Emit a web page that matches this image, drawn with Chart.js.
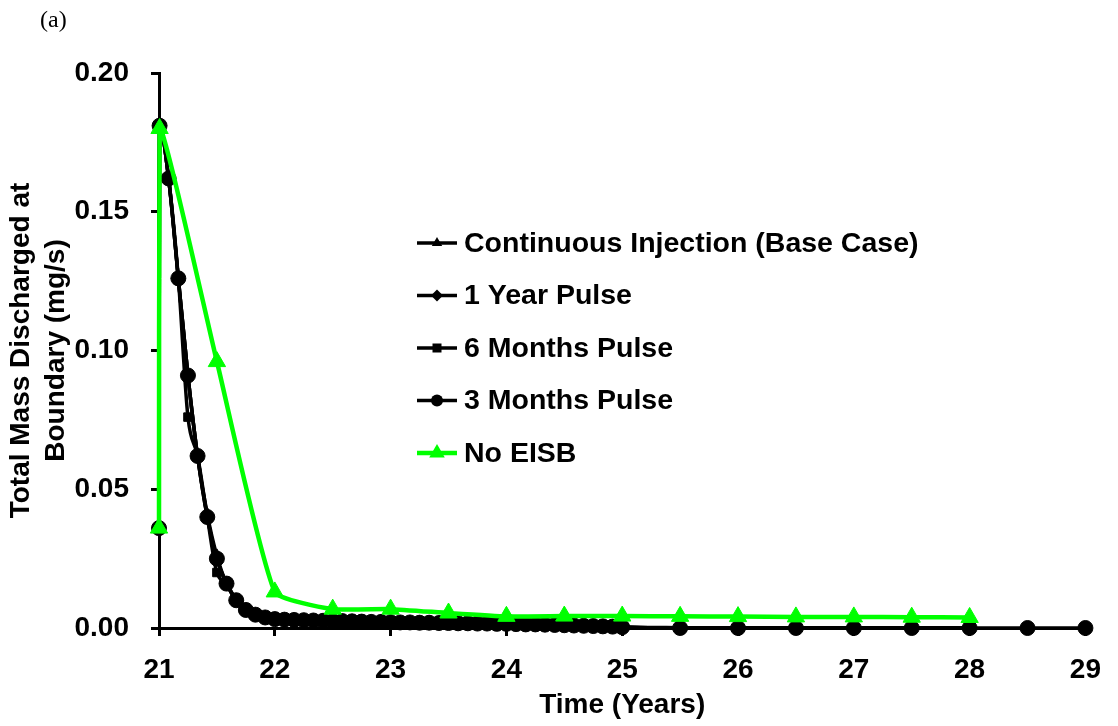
<!DOCTYPE html>
<html>
<head>
<meta charset="utf-8">
<script src="https://cdn.jsdelivr.net/npm/chart.js@4.4.0/dist/chart.umd.min.js"></script>
<style>
  body { margin: 0; background: #fff; }
  #wrap { position: relative; width: 1118px; height: 726px; }
  #panel { position: absolute; left: 40px; top: 7px; font: 24px "Liberation Serif", "Times New Roman", serif; line-height: 24px; }
</style>
</head>
<body>
<div id="wrap">
  <canvas id="massChart" width="1118" height="726"></canvas>
  <div id="panel">(a)</div>
</div>
<script>
// series names (legend order)
const seriesNames = ['Continuous Injection (Base Case)', '1 Year Pulse', '6 Months Pulse', '3 Months Pulse', 'No EISB'];

// time in years for the EISB runs: monthly up to year 25, then every half year
const pulseTimes = [21, 21.005, 21.083, 21.167, 21.25, 21.333, 21.417, 21.5, 21.583, 21.667, 21.75, 21.833, 21.917,
  22, 22.083, 22.167, 22.25, 22.333, 22.417, 22.5, 22.583, 22.667, 22.75, 22.833, 22.917,
  23, 23.083, 23.167, 23.25, 23.333, 23.417, 23.5, 23.583, 23.667, 23.75, 23.833, 23.917,
  24, 24.083, 24.167, 24.25, 24.333, 24.417, 24.5, 24.583, 24.667, 24.75, 24.833, 24.917,
  25, 25.5, 26, 26.5, 27, 27.5, 28, 28.5, 29];

// mass discharged (mg/s)
const continuousValues = [0.036, 0.181, 0.162, 0.126, 0.091, 0.062, 0.041, 0.026, 0.016, 0.010, 0.0066, 0.0049, 0.0039,
  0.0033, 0.0031, 0.0030, 0.0029, 0.0028, 0.0027, 0.0026, 0.0026, 0.0025, 0.0024, 0.0023, 0.0023,
  0.0022, 0.0021, 0.0021, 0.0020, 0.0020, 0.0019, 0.0019, 0.0018, 0.0018, 0.0017, 0.0017, 0.0016,
  0.0016, 0.0015, 0.0014, 0.0014, 0.0013, 0.0012, 0.0011, 0.0010, 0.0009, 0.0008, 0.0007, 0.0006,
  0.0004, 0.0001, 0, 0, 0, 0, 0];
const oneYearValues = [0.036, 0.181, 0.162, 0.126, 0.091, 0.062, 0.040, 0.025, 0.016, 0.010, 0.0065, 0.0048, 0.0038,
  0.0032, 0.0030, 0.0029, 0.0028, 0.0027, 0.0026, 0.0025, 0.0025, 0.0024, 0.0023, 0.0022, 0.0022,
  0.0021, 0.0020, 0.0020, 0.0019, 0.0019, 0.0018, 0.0018, 0.0017, 0.0017, 0.0016, 0.0016, 0.0015,
  0.0015, 0.0014, 0.0013, 0.0013, 0.0012, 0.0011, 0.0010, 0.0009, 0.0008, 0.0007, 0.0006, 0.0005,
  0.0003, 0, 0, 0, 0, 0, 0];
const sixMonthValues = [0.036, 0.181, 0.162, 0.126, 0.076, 0.062, 0.040, 0.020, 0.016, 0.010, 0.0065, 0.0048, 0.0038,
  0.0032, 0.0030, 0.0029, 0.0028, 0.0027, 0.0026, 0.0025, 0.0025, 0.0024, 0.0023, 0.0022, 0.0022,
  0.0021, 0.0020, 0.0020, 0.0019, 0.0019, 0.0018, 0.0018, 0.0017, 0.0017, 0.0016, 0.0016, 0.0015,
  0.0015, 0.0014, 0.0013, 0.0013, 0.0012, 0.0011, 0.0010, 0.0009, 0.0008, 0.0007, 0.0006, 0.0005,
  0.0003, 0, 0, 0, 0, 0, 0];
const threeMonthValues = [0.036, 0.181, 0.162, 0.126, 0.091, 0.062, 0.040, 0.025, 0.016, 0.010, 0.0065, 0.0048, 0.0038,
  0.0032, 0.0030, 0.0029, 0.0028, 0.0027, 0.0026, 0.0025, 0.0025, 0.0024, 0.0023, 0.0022, 0.0022,
  0.0021, 0.0020, 0.0020, 0.0019, 0.0019, 0.0018, 0.0018, 0.0017, 0.0017, 0.0016, 0.0016, 0.0015,
  0.0015, 0.0014, 0.0013, 0.0013, 0.0012, 0.0011, 0.0010, 0.0009, 0.0008, 0.0007, 0.0006, 0.0005,
  0.0003, 0, 0, 0, 0, 0, 0, 0, 0];

// no EISB run: half-yearly output
const noEisbTimes = [21, 21.005, 21.5, 22, 22.5, 23, 23.5, 24, 24.5, 25, 25.5, 26, 26.5, 27, 27.5, 28];
const noEisbValues = [0.036, 0.180, 0.096, 0.013, 0.0068, 0.0068, 0.0054, 0.0042, 0.0043, 0.0043, 0.0042, 0.0041, 0.0040, 0.0040, 0.0039, 0.0038];

// axis ticks
const xTicks = [21, 22, 23, 24, 25, 26, 27, 28, 29];
const yTicks = [0, 0.05, 0.10, 0.15, 0.20];

const fontFamily = '"Liberation Sans", Arial, sans-serif';
const boldFont = { family: fontFamily, size: 28, weight: 'bold' };

function toPoints(times, values) {
  return values.map((v, i) => ({ x: times[i], y: v }));
}

function blackSeries(label, values, style, radius, order) {
  return {
    label: label,
    data: toPoints(pulseTimes, values),
    borderColor: '#000',
    backgroundColor: '#000',
    borderWidth: 3.5,
    pointStyle: style,
    pointRadius: radius,
    pointBorderWidth: 1,
    cubicInterpolationMode: 'monotone',
    clip: false,
    order: order
  };
}

// marker drawn in the legend box
function drawMarker(ctx, style, x, y, r, color) {
  ctx.fillStyle = color;
  ctx.beginPath();
  if (style === 'circle') {
    ctx.arc(x, y, r, 0, Math.PI * 2);
  } else if (style === 'triangle') {
    ctx.moveTo(x, y - r);
    ctx.lineTo(x + r * 0.866, y + r / 2);
    ctx.lineTo(x - r * 0.866, y + r / 2);
  } else if (style === 'rectRot') {
    ctx.moveTo(x, y - r);
    ctx.lineTo(x + r, y);
    ctx.lineTo(x, y + r);
    ctx.lineTo(x - r, y);
  } else {
    ctx.rect(x - r * 0.75, y - r * 0.75, r * 1.5, r * 1.5);
  }
  ctx.closePath();
  ctx.fill();
}

// legend sitting inside the plot
const insideLegend = {
  id: 'insideLegend',
  afterDraw(chart, args, opts) {
    const ctx = chart.ctx;
    ctx.save();
    ctx.font = 'bold ' + opts.fontSize + 'px ' + fontFamily;
    ctx.textBaseline = 'middle';
    ctx.textAlign = 'left';
    chart.data.datasets.forEach((ds, i) => {
      const y = opts.top + i * opts.rowGap;
      ctx.strokeStyle = ds.borderColor;
      ctx.lineWidth = ds.borderWidth;
      ctx.beginPath();
      ctx.moveTo(opts.left, y);
      ctx.lineTo(opts.left + opts.lineLen, y);
      ctx.stroke();
      const r = ds.borderColor === '#000' ? 6 : 9;
      drawMarker(ctx, ds.pointStyle, opts.left + opts.lineLen / 2, y, r, ds.backgroundColor);
      ctx.fillStyle = '#000';
      ctx.fillText(ds.label, opts.textX, y + 1);
    });
    ctx.restore();
  }
};

const ctx = document.getElementById('massChart').getContext('2d');

const massChart = new Chart(ctx, {
  type: 'line',
  data: {
    datasets: [
      blackSeries(seriesNames[0], continuousValues, 'triangle', 7, 4),
      blackSeries(seriesNames[1], oneYearValues, 'rectRot', 7, 3),
      blackSeries(seriesNames[2], sixMonthValues, 'rect', 6, 2),
      blackSeries(seriesNames[3], threeMonthValues, 'circle', 7.5, 1),
      {
        label: seriesNames[4],
        data: toPoints(noEisbTimes, noEisbValues),
        borderColor: '#00ff00',
        backgroundColor: '#00ff00',
        borderWidth: 4.5,
        pointStyle: 'triangle',
        pointRadius: 10,
        pointBorderWidth: 1,
        tension: 0.15,
        clip: false,
        order: 0
      }
    ]
  },
  options: {
    responsive: false,
    animation: false,
    devicePixelRatio: 1,
    layout: { padding: { top: 73, right: 19, bottom: 0, left: 0 } },
    plugins: {
      legend: { display: false },
      tooltip: { enabled: false },
      insideLegend: { left: 417, top: 243, rowGap: 52.5, lineLen: 40, textX: 464, fontSize: 28.5 }
    },
    scales: {
      x: {
        type: 'linear',
        min: xTicks[0],
        max: xTicks[xTicks.length - 1],
        afterBuildTicks: s => { s.ticks = xTicks.map(v => ({ value: v })); },
        afterFit: s => { s.height = 98; },
        ticks: { color: '#000', font: boldFont, padding: 17, maxRotation: 0 },
        grid: { drawOnChartArea: false, color: '#000', lineWidth: 3, tickLength: 8 },
        border: { color: '#000', width: 3 },
        title: {
          display: true,
          text: 'Time (Years)',
          color: '#000',
          font: { family: fontFamily, size: 28, weight: 'bold', lineHeight: 1.2 },
          padding: { top: 0, bottom: 4 }
        }
      },
      y: {
        min: yTicks[0],
        max: yTicks[yTicks.length - 1],
        afterBuildTicks: s => { s.ticks = yTicks.map(v => ({ value: v })); },
        afterFit: s => { s.width = 159; },
        ticks: { color: '#000', font: boldFont, padding: 22, callback: v => v.toFixed(2) },
        grid: { drawOnChartArea: false, color: '#000', lineWidth: 3, tickLength: 8 },
        border: { color: '#000', width: 3 },
        title: {
          display: true,
          text: ['Total Mass Discharged at', 'Boundary (mg/s)'],
          color: '#000',
          font: { family: fontFamily, size: 28, weight: 'bold', lineHeight: 1.25 },
          padding: { top: 4, bottom: 0 }
        }
      }
    }
  },
  plugins: [insideLegend]
});
</script>
</body>
</html>
